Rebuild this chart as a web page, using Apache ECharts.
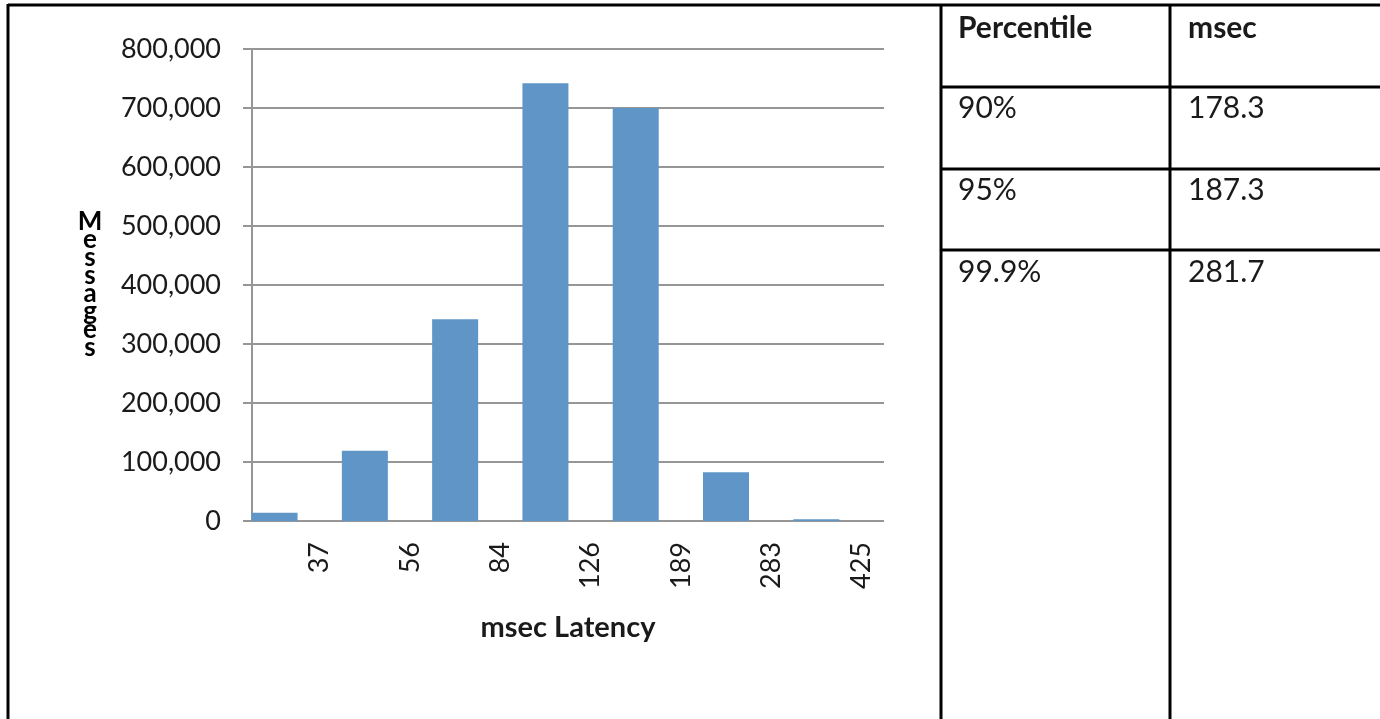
<!DOCTYPE html>
<html>
<head>
<meta charset="utf-8">
<script src="https://cdn.jsdelivr.net/npm/echarts@6/dist/echarts.min.js"></script>
<style>
html,body{margin:0;padding:0;background:#fff;}
#chart{width:1380px;height:719px;}
</style>
</head>
<body>
<div id="chart"></div>
<script>
// Histogram bins (upper edge labels, msec) and message counts
const edgeLabels = ['37', '56', '84', '126', '189', '283', '425'];
const counts = [14000, 119000, 342000, 742000, 700000, 82500, 3000];
const yTicks = { min: 0, max: 800000, interval: 100000 };
// Percentile table
const tableHeader = ['Percentile', 'msec'];
const percentiles = ['90%', '95%', '99.9%'];
const msecValues = ['178.3', '187.3', '281.7'];

const FONT = 'Lato, "Open Sans", sans-serif';
const TXT = '#1a1a1a';
const GRID = '#969696';

const chart = echarts.init(document.getElementById('chart'), null, { renderer: 'canvas' });

// table graphics
const graphics = [];
const lineEl = (x1, y1, x2, y2) => ({
  type: 'line', silent: true,
  shape: { x1, y1, x2, y2 },
  style: { stroke: '#000', lineWidth: 3 }
});
graphics.push(lineEl(8, 5, 1380, 5));
graphics.push(lineEl(8, 4, 8, 719));
graphics.push(lineEl(941, 4, 941, 719));
graphics.push(lineEl(1170, 4, 1170, 719));
[87, 169, 250].forEach(y => graphics.push(lineEl(941, y, 1380, y)));
const txtEl = (x, y, text, bold) => ({
  type: 'text', silent: true, x, y,
  style: {
    text, fill: TXT, font: (bold ? 'bold ' : '') + '30px ' + FONT,
    textAlign: 'left', textVerticalAlign: 'middle'
  }
});
graphics.push(txtEl(958, 28, tableHeader[0], true));
graphics.push(txtEl(1188, 28, tableHeader[1], true));
const rowY = [108, 190, 272];
percentiles.forEach((p, i) => {
  graphics.push(txtEl(958, rowY[i], p, false));
  graphics.push(txtEl(1188, rowY[i], msecValues[i], false));
});

chart.setOption({
  animation: false,
  backgroundColor: '#fff',
  grid: { left: 252, right: 496, top: 49, bottom: 198, containLabel: false },
  xAxis: {
    type: 'value',
    min: 0.25,
    max: 7.25,
    name: 'msec Latency',
    nameLocation: 'middle',
    nameGap: 92,
    nameTextStyle: { fontFamily: FONT, fontWeight: 'bold', fontSize: 29, color: TXT },
    axisLine: { show: false },
    axisTick: { show: false },
    splitLine: { show: false },
    axisLabel: {
      customValues: edgeLabels.map((_, i) => i + 1),
      formatter: v => edgeLabels[Math.round(v) - 1] || '',
      rotate: 90,
      margin: 21,
      fontFamily: FONT, fontSize: 27, color: TXT
    }
  },
  yAxis: {
    type: 'value',
    min: yTicks.min, max: yTicks.max, interval: yTicks.interval,
    name: 'M\ne\ns\ns\na\ng\ne\ns',
    nameLocation: 'middle',
    nameRotate: 0,
    nameGap: 162,
    nameTextStyle: { fontFamily: FONT, fontWeight: 'bold', fontSize: 26, lineHeight: 18, color: '#000', align: 'center' },
    axisLine: { show: true, lineStyle: { color: GRID, width: 2 } },
    axisTick: { show: true, length: 9, lineStyle: { color: GRID, width: 2 } },
    splitLine: { show: true, lineStyle: { color: GRID, width: 2 } },
    axisLabel: {
      margin: 31,
      fontFamily: FONT, fontSize: 27, color: TXT,
      formatter: v => v.toLocaleString('en-US')
    }
  },
  series: [{
    type: 'bar',
    data: counts.map((c, i) => [i + 0.5, c]),
    barWidth: 46,
    itemStyle: { color: '#5f96c7' },
    silent: true
  }],
  graphic: graphics
});
</script>
</body>
</html>
